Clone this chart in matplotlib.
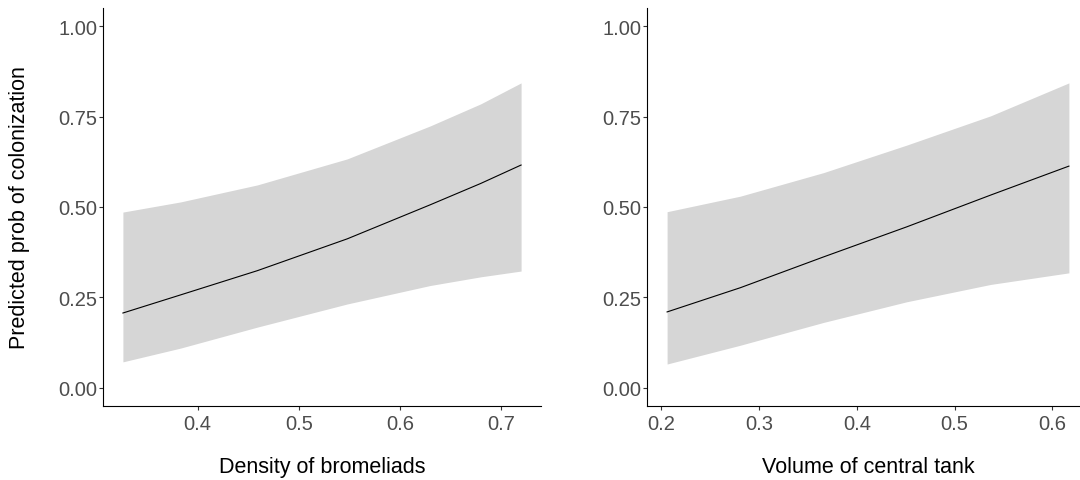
import matplotlib
matplotlib.use("Agg")
import matplotlib.pyplot as plt

plt.rcParams["font.family"] = ["Liberation Sans", "DejaVu Sans"]

# density of bromeliads panel
dens_x = [0.326, 0.383, 0.459, 0.548, 0.630, 0.680, 0.720]
dens_fit = [0.207, 0.257, 0.324, 0.412, 0.506, 0.565, 0.616]
dens_hi = [0.486, 0.514, 0.561, 0.633, 0.724, 0.785, 0.843]
dens_lo = [0.072, 0.110, 0.168, 0.232, 0.283, 0.307, 0.323]

# volume of central tank panel
vol_x = [0.206, 0.281, 0.366, 0.451, 0.537, 0.617]
vol_fit = [0.210, 0.277, 0.362, 0.445, 0.533, 0.613]
vol_hi = [0.487, 0.530, 0.595, 0.671, 0.752, 0.843]
vol_lo = [0.066, 0.118, 0.181, 0.238, 0.286, 0.318]

y_ticks = [0.0, 0.25, 0.5, 0.75, 1.0]
y_labels = ["0.00", "0.25", "0.50", "0.75", "1.00"]
dens_ticks = [0.4, 0.5, 0.6, 0.7]
vol_ticks = [0.2, 0.3, 0.4, 0.5, 0.6]

W, H = 1080, 481
fig = plt.figure(figsize=(W / 100, H / 100), dpi=100)
ax1 = fig.add_axes([103 / W, (H - 407) / H, 438 / W, 398 / H])
ax2 = fig.add_axes([647 / W, (H - 407) / H, 442 / W, 398 / H])


def style(ax, x, fit, lo, hi, xticks, xlabel, ylabel=None):
    ax.fill_between(x, lo, hi, color="#d6d6d6", linewidth=0)
    ax.plot(x, fit, color="black", linewidth=0.8)
    pad = (max(x) - min(x)) * 0.05
    ax.set_xlim(min(x) - pad, max(x) + pad)
    ax.set_ylim(-0.05, 1.05)
    ax.set_yticks(y_ticks)
    ax.set_yticklabels(y_labels)
    ax.set_xticks(xticks)
    ax.set_xticklabels([f"{t:.1f}" for t in xticks])
    for s in ["top", "right"]:
        ax.spines[s].set_visible(False)
    for s in ["left", "bottom"]:
        ax.spines[s].set_linewidth(0.8)
        ax.spines[s].set_color("black")
    ax.tick_params(length=2.8, width=0.8, color="#333333",
                   labelcolor="#4d4d4d", labelsize=14.5)
    ax.tick_params(axis="x", pad=3)
    ax.tick_params(axis="y", pad=1.5)
    ax.set_xlabel(xlabel, fontsize=15.5, color="black")
    ax.xaxis.label.set_va("center")
    ax.xaxis.set_label_coords(0.5, -(468 - 407) / 398)
    if ylabel:
        ax.set_ylabel(ylabel, fontsize=15.5, color="black")
        ax.yaxis.label.set_va("center")
        ax.yaxis.set_label_coords((20 - 103) / 438, 0.5)


style(ax1, dens_x, dens_fit, dens_lo, dens_hi, dens_ticks,
      "Density of bromeliads", "Predicted prob of colonization")
style(ax2, vol_x, vol_fit, vol_lo, vol_hi, vol_ticks, "Volume of central tank")

fig.savefig("out.png", dpi=100)
